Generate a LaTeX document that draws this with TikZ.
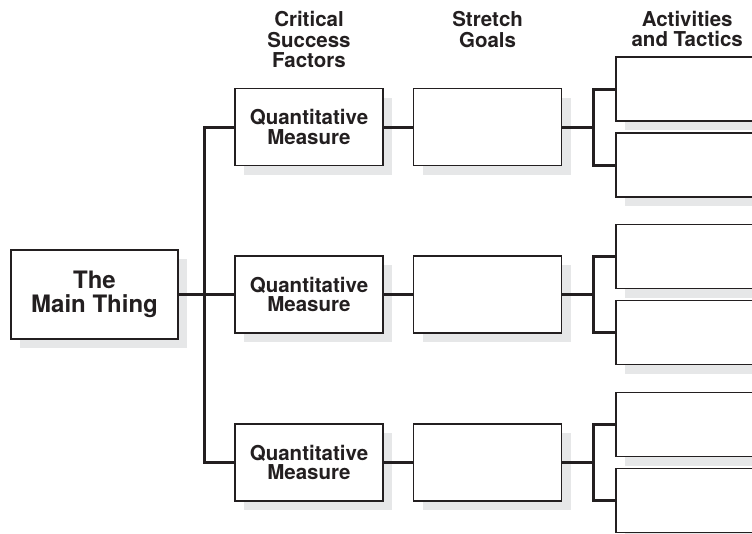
\documentclass[tikz,border=0pt]{standalone}
\usepackage{fontspec}
\setmainfont{TeX Gyre Heros}
\usepackage{tikz}
\usetikzlibrary{positioning,shadows}
\definecolor{ink}{HTML}{231F20}
\definecolor{boxshadow}{HTML}{E6E7E8}

\begin{document}
\begin{tikzpicture}[
    x=1pt, y=-1pt,
    node distance=29pt,
    box/.style={draw=ink, line width=1.6pt, fill=white, text=ink,
                drop shadow={shadow xshift=9pt, shadow yshift=-9pt, fill=boxshadow, opacity=1},
                minimum width=148pt, minimum height=77pt, align=center, inner sep=0pt,
                font=\fontsize{20.5}{19.5}\selectfont\bfseries},
    mainbox/.style={box, minimum width=167pt, minimum height=89pt,
                    font=\fontsize{24}{24}\selectfont\bfseries},
    actbox/.style={box, minimum width=150pt, minimum height=64pt},
    head/.style={align=center, inner sep=0pt, text=ink,
                 font=\fontsize{20.5}{20.5}\selectfont\bfseries},
    link/.style={draw=ink, line width=3pt, line join=miter}
  ]
  \path[use as bounding box, clip] (0,0) rectangle (752,533);

  %%%%%%%%%%%%% Left: the main thing %%%%%%%%%%%%%
  \node[mainbox] (main) at (94.5,294.5) {The\\Main Thing};
  \coordinate (trunk) at (204,294.5);

  %%%%%%%%%%%%% Rows: factor, goal, two activities %%%%%%%%%%%%%
  \foreach \i/\y in {1/127, 2/294.5, 3/462.5} {
    \node[box] (csf\i) at (309,\y) {Quantitative\\Measure};
    \node[box, right=of csf\i] (goal\i) {};
    \coordinate[right=31pt of goal\i.east] (brk\i);
    \node[actbox, right=22pt of brk\i, yshift=38pt] (acta\i) {};
    \node[actbox, right=22pt of brk\i, yshift=-38pt] (actb\i) {};
  }

  %%%%%%%%%%%%% Column heads %%%%%%%%%%%%%
  \node[head, above=19.5pt of csf1] (hcsf) {Critical\\Success\\Factors};
  \node[head, above=40pt of goal1] (hgoal) {Stretch\\Goals};
  \node[head, above=9pt of acta1, xshift=-4pt] (hact) {Activities\\and Tactics};

  %%%%%%%%%%%%% Connections %%%%%%%%%%%%%
  \draw[link] (main) -- (csf2);
  \draw[link] (csf1.west) -| (trunk) |- (csf3.west);
  \foreach \i in {1,2,3} {
    \draw[link] (csf\i) -- (goal\i);
    \draw[link] (goal\i) -- (brk\i);
    \draw[link] (acta\i.west) -| (brk\i) |- (actb\i.west);
  }
\end{tikzpicture}
\end{document}
